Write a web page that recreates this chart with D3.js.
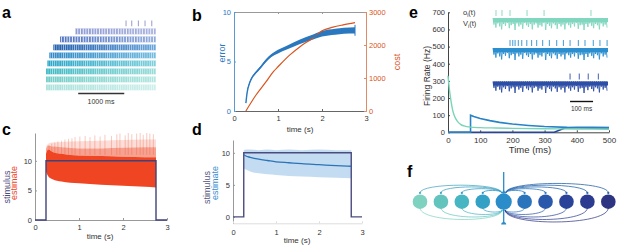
<!DOCTYPE html>
<html>
<head>
<meta charset="utf-8">
<script src="https://cdn.jsdelivr.net/npm/d3@7"></script>
<style>
  body { margin: 0; background: #fff; }
  svg { display: block; }
</style>
</head>
<body>
<div id="fig"></div>
<script>
// ---------- data ----------
// a: spike raster, one row per neuron (ms)
const rasterOnset = [null, 630, 304, 159, 72, 28, 0, 0, 0];
const rasterEnd = 2390;
const rasterTopSpikes = [1739, 1863, 2007, 2152, 2298];
const rasterLeftColor = ["#8e90c6", "#8a97d2", "#4d70c0", "#2560ae", "#2f88c6", "#2aa6c8", "#3db9c4", "#70ccc6", "#a9e1da"];
const rasterRightColor = ["#8e90c6", "#a7b1de", "#8ea8da", "#6ba6dc", "#74bde0", "#80d0dc", "#9adcd8", "#b3e6e0", "#cdefeb"];

// b: error and cost over time
const errTime = [0.27, 0.3, 0.36, 0.4, 0.5, 0.6, 0.73, 0.85, 1.0, 1.2, 1.5, 1.75, 2.0, 2.3, 2.5, 2.75];
const errValue = [0.8, 1.9, 2.9, 3.3, 3.9, 4.4, 5.1, 5.6, 6.0, 6.4, 7.0, 7.4, 7.8, 8.0, 8.1, 8.15];
const errSpread = [0.05, 0.08, 0.1, 0.1, 0.12, 0.12, 0.15, 0.15, 0.18, 0.2, 0.22, 0.25, 0.28, 0.3, 0.3, 0.32];
const costTime = [0.27, 0.5, 0.73, 0.9, 1.0, 1.27, 1.5, 1.78, 2.0, 2.25, 2.48, 2.75];
const costValue = [0, 485, 890, 1200, 1340, 1700, 1950, 2200, 2430, 2540, 2610, 2680];

// c / d: stimulus step
const stimTime = [0, 0.25, 0.25, 2.75, 2.75, 3];
const stimValue = [0, 0, 10, 10, 0, 0];

// c: population estimate envelopes
const cTime = [0.25, 0.3, 0.4, 0.6, 1.0, 1.5, 2.0, 2.5, 2.75];
const cLow = [8.2, 7.4, 6.9, 6.5, 6.2, 5.95, 5.8, 5.6, 5.5];
const cMid = [11.2, 11.9, 11.5, 11.2, 10.9, 10.8, 10.7, 10.6, 10.6];
const cMid2 = [12.0, 12.6, 12.4, 12.3, 12.1, 12.1, 12.2, 12.3, 12.3];
const cHigh = [12.4, 12.9, 13.1, 13.2, 13.3, 13.4, 13.5, 13.6, 13.6];
const cSpikeTime = [0.32, 0.38, 0.45, 0.52, 0.6, 0.68, 0.76, 0.84, 0.91, 1.02, 1.14, 1.25, 1.36, 1.48, 1.59, 1.74, 1.86, 1.93, 2.05, 2.12, 2.2, 2.31, 2.39, 2.46, 2.54, 2.61, 2.69];
const cSpikeTop = [12.6, 12.9, 13.1, 13.3, 13.4, 13.6, 13.7, 13.8, 14.0, 14.1, 14.2, 14.0, 14.3, 14.1, 14.4, 14.2, 14.5, 14.6, 14.3, 14.7, 14.5, 14.6, 14.7, 14.4, 14.7, 14.6, 14.5];

// d: mean estimate and spread
const dTime = [0.25, 0.3, 0.4, 0.6, 0.8, 1.0, 1.3, 1.6, 2.0, 2.4, 2.75];
const dEst = [9.7, 9.5, 9.3, 9.0, 8.8, 8.6, 8.45, 8.3, 8.15, 8.0, 7.9];
const dLow = [7.6, 7.4, 7.1, 6.8, 6.65, 6.55, 6.4, 6.3, 6.2, 6.1, 6.05];
const dHigh = [10.4, 10.5, 10.5, 10.4, 10.5, 10.4, 10.5, 10.4, 10.5, 10.4, 10.4];

// e: firing rates (Hz) of three neurons
const rateTealTime = [0, 5, 10, 15, 20, 30, 40, 50, 70, 100, 150, 200, 300, 400, 500];
const rateTeal = [330, 240, 175, 125, 95, 62, 45, 37, 30, 27, 25, 23, 21, 19, 18];
const rateBlueTime = [0, 70, 70, 80, 100, 130, 160, 200, 250, 300, 370, 450, 500];
const rateBlue = [0, 0, 100, 92, 80, 68, 58, 48, 40, 34, 29, 27, 26];
const rateDarkTime = [0, 330, 365, 400, 500];
const rateDark = [0, 0, 26, 27, 27];
// e inset: spike times (ms) and membrane voltage dips
const spikesTeal = [13, 39, 74, 148, 222, 426];
const spikesBlue = [74, 86, 96, 110, 125, 147, 168, 190, 216, 245, 277, 306, 335, 371, 400, 436, 465, 496];
const spikesDark = [335, 375, 414, 458];
const vDip = [0.55, 0.8, 0.45, 0.7, 0.95, 0.5, 0.65, 0.4, 0.85, 0.6, 0.5, 1.0, 0.45, 0.7, 0.55, 0.9, 0.4, 0.6, 0.75, 0.5,
              0.95, 0.55, 0.45, 0.8, 0.6, 0.7, 0.4, 1.0, 0.5, 0.65, 0.85, 0.45, 0.6, 0.9, 0.5, 0.7, 0.55, 0.95, 0.45, 0.6,
              0.8, 0.5, 0.7, 0.4, 0.9, 0.6, 0.55, 1.0, 0.5, 0.75, 0.45, 0.65, 0.85, 0.5, 0.6, 0.95, 0.45, 0.7, 0.55, 0.8];

// f: network neurons
const neuronColors = ["#7fd1c0", "#63c4bd", "#48b5c2", "#33a0c6", "#2a8cc8", "#2a74bc", "#2a58aa", "#2a4399", "#2c3a8f", "#2d3482"];
const centerNeuron = 4;

// ---------- drawing ----------
const FONT = '"Liberation Sans", Arial, Helvetica, sans-serif';
const svg = d3.select("#fig").append("svg")
    .attr("width", 617).attr("height", 246)
    .style("font-family", FONT);
const defs = svg.append("defs");
const num = d3.format("d");

function letter(x, y, t) {
    svg.append("text").attr("x", x).attr("y", y)
        .attr("font-size", 16).attr("font-weight", "bold").text(t);
}

function axis(gen, tx, ty, lineColor, textColor, fs) {
    const g = svg.append("g").attr("transform", `translate(${tx},${ty})`).call(gen);
    g.attr("font-family", FONT).attr("font-size", fs);
    g.select(".domain").attr("stroke", lineColor);
    g.selectAll(".tick line").attr("stroke", lineColor);
    g.selectAll(".tick text").attr("fill", textColor);
    return g;
}

function label(x, y, t, fs, color, rotate) {
    return svg.append("text")
        .attr("transform", `translate(${x},${y})` + (rotate ? " rotate(-90)" : ""))
        .attr("text-anchor", "middle").attr("font-size", fs).attr("fill", color).text(t);
}

const zip = (xs, ys) => xs.map((x, i) => [x, ys[i]]);

// ===== panel a =====
letter(2, 18, "a");
const xa = d3.scaleLinear().domain([0, rasterEnd]).range([46, 156]);
const ya = d3.scaleBand().domain(d3.range(rasterOnset.length)).range([20.5, 90.3]).paddingInner(0.28);

defs.append("pattern").attr("id", "stripe").attr("patternUnits", "userSpaceOnUse")
    .attr("width", 2.2).attr("height", 10)
    .append("rect").attr("x", 1.6).attr("width", 0.5).attr("height", 10).attr("fill", "#fff").attr("opacity", 0.85);
defs.append("pattern").attr("id", "stripeSparse").attr("patternUnits", "userSpaceOnUse")
    .attr("width", 2.7).attr("height", 10)
    .append("rect").attr("x", 1.7).attr("width", 0.9).attr("height", 10).attr("fill", "#fff");

rasterOnset.forEach((on, i) => {
    if (on === null) return;
    const grad = defs.append("linearGradient").attr("id", "rg" + i);
    grad.append("stop").attr("offset", "0%").attr("stop-color", rasterLeftColor[i]);
    grad.append("stop").attr("offset", "100%").attr("stop-color", rasterRightColor[i]);
    svg.append("rect").attr("x", xa(on)).attr("y", ya(i))
        .attr("width", xa(rasterEnd) - xa(on)).attr("height", ya.bandwidth())
        .attr("fill", `url(#rg${i})`);
    svg.append("rect").attr("x", xa(on)).attr("y", ya(i))
        .attr("width", xa(rasterEnd) - xa(on)).attr("height", ya.bandwidth())
        .attr("fill", i <= 2 ? "url(#stripeSparse)" : "url(#stripe)");
});
svg.append("g").selectAll("line").data(rasterTopSpikes).join("line")
    .attr("x1", d => xa(d)).attr("x2", d => xa(d))
    .attr("y1", ya(0)).attr("y2", ya(0) + ya.bandwidth())
    .attr("stroke", rasterLeftColor[0]).attr("stroke-width", 0.9);
svg.append("line").attr("x1", xa(700)).attr("x2", xa(1700)).attr("y1", 93.5).attr("y2", 93.5)
    .attr("stroke", "#333").attr("stroke-width", 1.3);
label(101, 104, "1000 ms", 7, "#333");

// ===== panel b =====
letter(192, 21, "b");
const xb = d3.scaleLinear().domain([0, 3]).range([234, 366]);
const yErr = d3.scaleLinear().domain([0, 10]).range([111, 12]);
const yCost = d3.scaleLinear().domain([0, 3000]).range([111, 12]);
const blue = "#2a78bf", orange = "#d9541e";

axis(d3.axisTop(xb).tickValues([0, 1, 2, 3]).tickSize(-2).tickSizeOuter(0).tickFormat(""), 0, 12, "#999", "#999", 7);
axis(d3.axisBottom(xb).tickValues([0, 1, 2, 3]).tickFormat(num).tickSize(-2).tickSizeOuter(0).tickPadding(4.5), 0, 111, "#666", "#333", 7.5);
axis(d3.axisLeft(yErr).tickValues([0, 5, 10]).tickFormat(num).tickSize(-2).tickSizeOuter(0).tickPadding(3), 234, 0, "#5b9bd0", blue, 7.5);
axis(d3.axisRight(yCost).tickValues([0, 1000, 2000, 3000]).tickFormat(num).tickSize(-2).tickSizeOuter(0).tickPadding(3), 366, 0, "#e08a66", orange, 7.5);

const errData = errTime.map((t, i) => ({t, v: errValue[i], s: errSpread[i]}));
svg.append("path").datum(errData)
    .attr("d", d3.area().curve(d3.curveMonotoneX).x(d => xb(d.t)).y0(d => yErr(d.v - d.s)).y1(d => yErr(d.v + d.s)))
    .attr("fill", blue);
svg.append("path").datum(zip(costTime, costValue))
    .attr("d", d3.line().curve(d3.curveMonotoneX).x(d => xb(d[0])).y(d => yCost(d[1])))
    .attr("fill", "none").attr("stroke", orange).attr("stroke-width", 1.2);
svg.append("path").datum(errData)
    .attr("d", d3.line().curve(d3.curveMonotoneX).x(d => xb(d.t)).y(d => yErr(d.v)))
    .attr("fill", "none").attr("stroke", blue).attr("stroke-width", 1.4);
svg.append("line").attr("x1", xb(2.75)).attr("x2", xb(2.75)).attr("y1", yErr(7.6)).attr("y2", yErr(8.7))
    .attr("stroke", blue).attr("stroke-width", 1);
label(225, 53, "error", 9, blue, true);
label(400, 62, "cost", 9, orange, true);
label(300, 132, "time (s)", 8, "#333");

// ===== panel c =====
letter(2, 135, "c");
const xc = d3.scaleLinear().domain([0, 3]).range([35, 167]);
const yc = d3.scaleLinear().domain([0, 14.7]).range([220, 133]);
const red = "#ef4523", navy = "#40437a";

const cData = cTime.map((t, i) => ({t, lo: cLow[i], m: cMid[i], m2: cMid2[i], hi: cHigh[i]}));
const cArea = (a, b) => d3.area().curve(d3.curveMonotoneX).x(d => xc(d.t)).y0(d => yc(d[a])).y1(d => yc(d[b]));
svg.append("path").datum(cData).attr("d", cArea("m2", "hi")).attr("fill", red).attr("opacity", 0.18);
svg.append("path").datum(cData).attr("d", cArea("m", "m2")).attr("fill", red).attr("opacity", 0.5);
svg.append("g").selectAll("line").data(cSpikeTime).join("line")
    .attr("x1", d => xc(d)).attr("x2", d => xc(d))
    .attr("y1", yc(11)).attr("y2", (d, i) => yc(cSpikeTop[i]))
    .attr("stroke", red).attr("stroke-width", 0.8).attr("opacity", 0.35);
svg.append("path").datum(cData).attr("d", cArea("lo", "m")).attr("fill", red);

axis(d3.axisLeft(yc).tickValues([0, 5, 10]).tickFormat(num).tickSize(-2).tickSizeOuter(0).tickPadding(3), 35, 0, "#999", "#333", 7.5);
axis(d3.axisBottom(xc).tickValues([0, 1, 2, 3]).tickFormat(num).tickSize(-2).tickSizeOuter(0).tickPadding(5), 0, 220, "#999", "#333", 7.5);
svg.append("path").datum(zip(stimTime, stimValue))
    .attr("d", d3.line().x(d => xc(d[0])).y(d => yc(d[1])))
    .attr("fill", "none").attr("stroke", navy).attr("stroke-width", 1.4);
label(9.5, 187, "stimulus", 9, "#4a4c82", true);
label(17, 183, "estimate", 9, red, true);
label(100, 239, "time (s)", 8, "#333");

// ===== panel d =====
letter(192, 135, "d");
const xd = d3.scaleLinear().domain([0, 3]).range([233, 362]);
const yd = d3.scaleLinear().domain([-1, 12]).range([223.3, 140]);
const dBlue = "#2b73b8";
const dData = dTime.map((t, i) => ({t, v: dEst[i], lo: dLow[i], hi: dHigh[i]}));
svg.append("path").datum(dData)
    .attr("d", d3.area().curve(d3.curveMonotoneX).x(d => xd(d.t)).y0(d => yd(d.lo)).y1(d => yd(d.hi)))
    .attr("fill", "#c4dcf1");
axis(d3.axisLeft(yd).tickValues([0, 5, 10]).tickFormat(num).tickSize(-2).tickSizeOuter(0).tickPadding(3), 233, 0, "#999", "#333", 7.5);
axis(d3.axisBottom(xd).tickValues([0, 1, 2, 3]).tickFormat(num).tickSize(-2).tickSizeOuter(0).tickPadding(6), 0, 223.3, "#ddd", "#333", 7.5);
svg.append("path").datum(zip(stimTime, stimValue))
    .attr("d", d3.line().x(d => xd(d[0])).y(d => yd(d[1])))
    .attr("fill", "none").attr("stroke", "#4a4c80").attr("stroke-width", 1.4);
svg.append("path").datum(dData)
    .attr("d", d3.line().curve(d3.curveMonotoneX).x(d => xd(d.t)).y(d => yd(d.v)))
    .attr("fill", "none").attr("stroke", dBlue).attr("stroke-width", 1.3);
label(210, 187.5, "stimulus", 9, "#55587f", true);
label(217.5, 183, "estimate", 9, "#3a8fd0", true);
label(297, 242.5, "time (s)", 8, "#333");

// ===== panel e =====
letter(409, 18, "e");
const xe = d3.scaleLinear().domain([0, 500]).range([448, 609]);
const ye = d3.scaleLinear().domain([0, 700]).range([132.3, 12.3]);
axis(d3.axisLeft(ye).tickValues(d3.range(0, 701, 100)).tickFormat(num).tickSize(-2).tickSizeOuter(0).tickPadding(3), 448, 0, "#444", "#333", 7.5);
axis(d3.axisBottom(xe).tickValues(d3.range(0, 501, 100)).tickFormat(num).tickSize(-2).tickSizeOuter(0).tickPadding(5), 0, 132.3, "#444", "#333", 8);
const eLine = d3.line().x(d => xe(d[0])).y(d => ye(d[1]));
svg.append("path").datum(zip(rateDarkTime, rateDark)).attr("d", eLine)
    .attr("fill", "none").attr("stroke", "#23479c").attr("stroke-width", 1.6);
svg.append("path").datum(zip(rateBlueTime, rateBlue)).attr("d", eLine)
    .attr("fill", "none").attr("stroke", "#2683c6").attr("stroke-width", 1.6);
svg.append("path").datum(zip(rateTealTime, rateTeal)).attr("d", d3.line().curve(d3.curveMonotoneX).x(d => xe(d[0])).y(d => ye(d[1])))
    .attr("fill", "none").attr("stroke", "#79d4b8").attr("stroke-width", 1.4);
label(430, 76, "Firing Rate (Hz)", 8.5, "#333", true);
label(530, 153, "Time (ms)", 9.5, "#333");

// inset traces
const xi = d3.scaleLinear().domain([0, 500]).range([493, 608]);
const dipStep = 500 / vDip.length;
const insets = [
    {top: 18, depth: 12, color: "#80d6be", spikes: spikesTeal},
    {top: 48, depth: 12, color: "#2b8fcf", spikes: spikesBlue},
    {top: 81.5, depth: 11.5, color: "#2c4ea6", spikes: spikesDark}
];
insets.forEach(tr => {
    const pts = [];
    vDip.forEach((v, i) => {
        pts.push([xi(i * dipStep), tr.top]);
        pts.push([xi(i * dipStep + dipStep / 2), tr.top + v * tr.depth]);
    });
    svg.append("path").datum(pts).attr("d", d3.line())
        .attr("fill", "none").attr("stroke", tr.color).attr("stroke-width", 0.9);
    svg.append("rect").attr("x", xi(0)).attr("y", tr.top).attr("width", xi(500) - xi(0)).attr("height", tr.depth * 0.35)
        .attr("fill", tr.color);
    svg.append("g").selectAll("line").data(tr.spikes).join("line")
        .attr("x1", d => xi(d)).attr("x2", d => xi(d))
        .attr("y1", tr.top - 8).attr("y2", tr.top - 2)
        .attr("stroke", tr.color).attr("stroke-width", 0.9);
});
const sub = (y, main) => {
    const t = svg.append("text").attr("x", 463).attr("y", y).attr("font-size", 7.5).attr("fill", "#333");
    t.append("tspan").text(main);
    t.append("tspan").attr("font-size", 5).attr("dy", 1.5).text("i");
    t.append("tspan").attr("dy", -1.5).text("(t)");
};
sub(15, "o");
sub(26, "V");
svg.append("line").attr("x1", xi(335)).attr("x2", xi(435)).attr("y1", 101.5).attr("y2", 101.5)
    .attr("stroke", "#111").attr("stroke-width", 1.4);
label(xi(385), 110.5, "100 ms", 6.5, "#333");

// ===== panel f =====
letter(407, 177, "f");
const fx = d3.scalePoint().domain(d3.range(neuronColors.length)).range([420, 608.3]);
const fy = 201.7, fr = 7.3;
const cx = fx(centerNeuron), cCol = neuronColors[centerNeuron];
const upH = d3.scaleLinear().domain([1, 5]).range([2.5, 9.5]);
const dnH = d3.scaleLinear().domain([1, 5]).range([4, 14]);
const others = d3.range(neuronColors.length).filter(j => j !== centerNeuron);

// arcs below: from each neuron into the centre neuron
svg.append("g").selectAll("path").data(others).join("path")
    .attr("d", j => {
        const h = dnH(Math.abs(j - centerNeuron)) * 1.33, y0 = fy + 6, xs = fx(j), xe2 = cx + (j < centerNeuron ? -1.5 : 1.5);
        return `M${xs},${y0} C${xs},${y0 + h} ${xe2},${y0 + h} ${xe2},${fy + fr + 1}`;
    })
    .attr("fill", "none").attr("stroke", j => neuronColors[j]).attr("stroke-width", 0.8).attr("opacity", 0.9);
// arcs above: from the centre neuron to the others
svg.append("g").selectAll("path").data(others).join("path")
    .attr("d", j => {
        const h = upH(Math.abs(j - centerNeuron)) * 1.33, y0 = fy - fr - 1.5, xs = cx + (j < centerNeuron ? -2 : 2), xt = fx(j);
        return `M${xs},${y0} C${xs},${y0 - h} ${xt},${y0 - h} ${xt},${y0}`;
    })
    .attr("fill", "none").attr("stroke", j => d3.interpolateRgb(cCol, neuronColors[j])(0.45)).attr("stroke-width", 0.8);
svg.append("g").selectAll("circle").data(others).join("circle")
    .attr("cx", j => fx(j)).attr("cy", fy - fr - 1.5).attr("r", 1.1)
    .attr("fill", j => d3.interpolateRgb(cCol, neuronColors[j])(0.45));
// input and output lines of the centre neuron
svg.append("line").attr("x1", cx).attr("x2", cx).attr("y1", 172).attr("y2", fy - fr - 1)
    .attr("stroke", cCol).attr("stroke-width", 1.3);
svg.append("path").attr("d", `M${cx - 2.5},${fy - fr - 1} L${cx + 2.5},${fy - fr - 1} L${cx},${fy - fr - 4.5}Z`).attr("fill", cCol);
svg.append("line").attr("x1", cx).attr("x2", cx).attr("y1", fy + fr).attr("y2", 223)
    .attr("stroke", cCol).attr("stroke-width", 1.3);
svg.append("path").attr("d", `M${cx - 2.5},${224.5} A2.5,2.5 0 0 1 ${cx + 2.5},${224.5}Z`).attr("fill", cCol);
svg.append("g").selectAll("circle").data(neuronColors).join("circle")
    .attr("cx", (d, i) => fx(i)).attr("cy", fy)
    .attr("r", (d, i) => i === centerNeuron ? fr + 0.8 : fr)
    .attr("fill", d => d);
</script>
</body>
</html>
